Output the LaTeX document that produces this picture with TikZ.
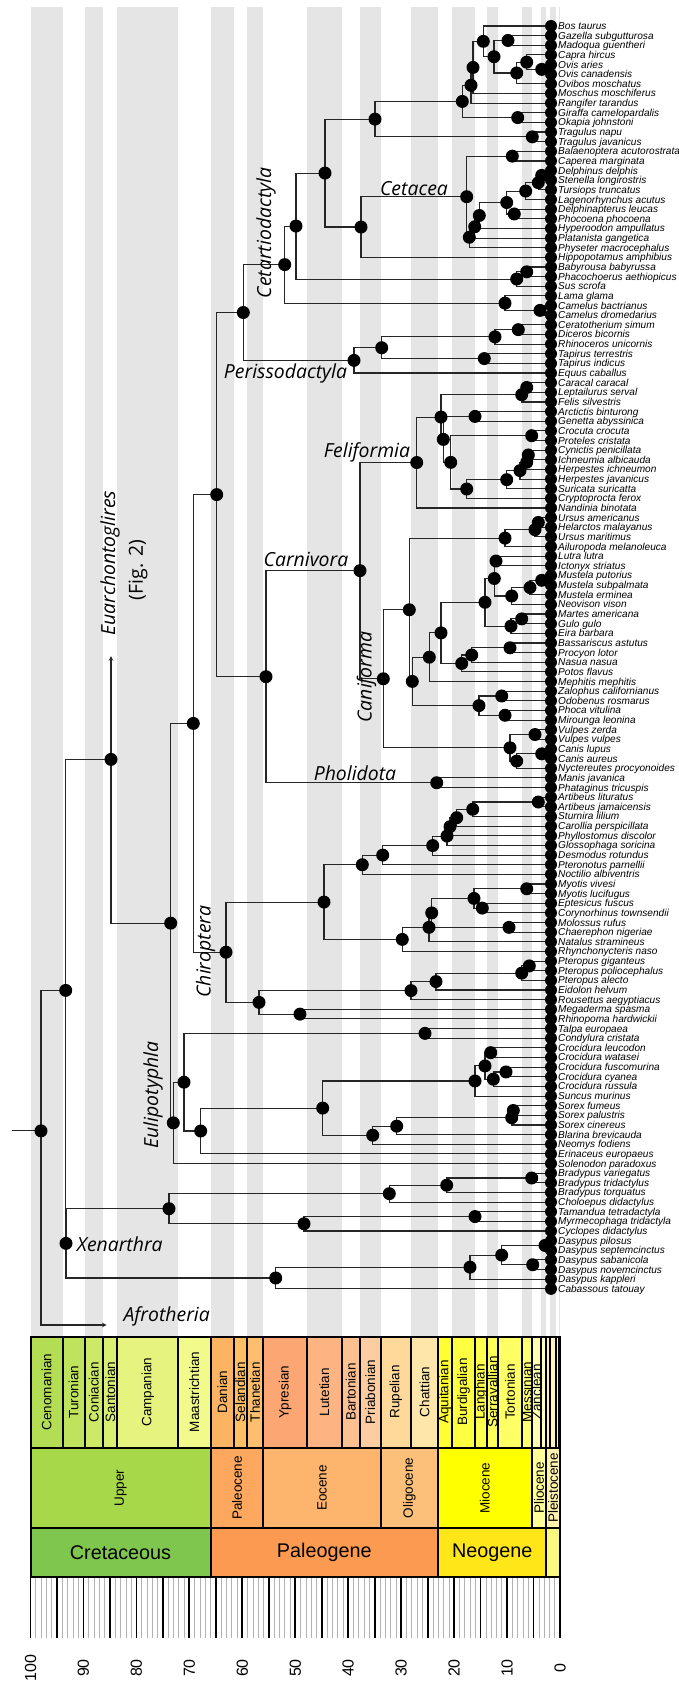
\documentclass[tikz,border=0pt]{standalone}
\usepackage{fontspec}
\setmainfont{Liberation Sans}
\newfontfamily\cladefont{Open Sans}
\usepackage{tikz}
\usetikzlibrary{calc}
\definecolor{stripe}{HTML}{E5E5E5}
% stages
\definecolor{cenom}{HTML}{B3DE53}
\definecolor{turon}{HTML}{BFE35D}
\definecolor{conia}{HTML}{CCE968}
\definecolor{santo}{HTML}{D9EF74}
\definecolor{campa}{HTML}{E6F47F}
\definecolor{maast}{HTML}{F2FA8C}
\definecolor{dania}{HTML}{FDB462}
\definecolor{selan}{HTML}{FEBF65}
\definecolor{thane}{HTML}{FDBF6F}
\definecolor{ypres}{HTML}{FCA773}
\definecolor{lutet}{HTML}{FCB482}
\definecolor{barto}{HTML}{FDC091}
\definecolor{priab}{HTML}{FDCDA1}
\definecolor{rupel}{HTML}{FED99A}
\definecolor{chatt}{HTML}{FEE6AA}
\definecolor{aquit}{HTML}{FFFF33}
\definecolor{burdi}{HTML}{FFFF41}
\definecolor{langh}{HTML}{FFFF4D}
\definecolor{serra}{HTML}{FFFF59}
\definecolor{torto}{HTML}{FFFF66}
\definecolor{messi}{HTML}{FFFF73}
\definecolor{zancl}{HTML}{FFFFB3}
\definecolor{piace}{HTML}{FFFFBF}
\definecolor{gelas}{HTML}{FFEDB3}
\definecolor{calab}{HTML}{FFF2BA}
\definecolor{midpl}{HTML}{FFF2C7}
\definecolor{upppl}{HTML}{FFF2D3}
% epochs
\definecolor{uppcr}{HTML}{A6D84A}
\definecolor{paleoc}{HTML}{FDA75F}
\definecolor{eocen}{HTML}{FDB46C}
\definecolor{oligo}{HTML}{FDC07A}
\definecolor{mioce}{HTML}{FFFF00}
\definecolor{plioc}{HTML}{FFFF99}
\definecolor{pleis}{HTML}{FFF2AE}
\definecolor{holoc}{HTML}{FEF2E0}
% periods
\definecolor{creta}{HTML}{7FC64E}
\definecolor{paleog}{HTML}{FD9A52}
\definecolor{neoge}{HTML}{FFE619}
\definecolor{quate}{HTML}{F9F97F}

\begin{document}
\begin{tikzpicture}[
   x=1pt, y=-1pt,
   branch/.style={draw=black!85, line width=1.1},
   nodedot/.style={circle, fill=black, inner sep=0, minimum size=13},
   tipdot/.style={circle, fill=black, inner sep=0, minimum size=12},
   tiplabel/.style={anchor=base west, inner sep=0, font=\fontsize{10.1}{10}\selectfont\itshape},
   cladelabel/.style={inner sep=0, font=\cladefont\fontsize{19.4}{20}\selectfont\itshape},
   unitbox/.style={draw=black, line width=2},
   stagelabel/.style={rotate=90, inner sep=0, font=\fontsize{13.5}{14}\selectfont},
   periodlabel/.style={inner sep=0, font=\fontsize{19.8}{20}\selectfont},
   tickminor/.style={draw=black!30, line width=0.6},
   tickmajor/.style={draw=black, line width=1.8},
   agelabel/.style={rotate=90, inner sep=0, font=\fontsize{16}{16}\selectfont}
  ]

  % time axis: x = xzero - kma * age
  \pgfmathsetmacro{\xzero}{560}
  \pgfmathsetmacro{\kma}{5.295}

  \useasboundingbox (0,0) rectangle (679,1691);

  % grey stage stripes
  \foreach \a/\b in {100/93.9, 89.8/86.3, 83.6/72.1, 66/61.6, 59.2/56, 47.8/41.2, 37.8/33.9,
                     28.1/23.03, 20.44/15.97, 13.82/11.63, 7.246/5.333, 3.6/2.58, 1.8/0.781, 0.126/0} {
    \fill[stripe] ({\xzero-\kma*\a},7) rectangle ({\xzero-\kma*\b},1336);
  }

  \def\specieslist{Bos taurus, Gazella subgutturosa, Madoqua guentheri, Capra hircus, Ovis aries,
    Ovis canadensis, Ovibos moschatus, Moschus moschiferus, Rangifer tarandus, Giraffa camelopardalis,
    Okapia johnstoni, Tragulus napu, Tragulus javanicus, Balaenoptera acutorostrata, Caperea marginata,
    Delphinus delphis, Stenella longirostris, Tursiops truncatus, Lagenorhynchus acutus,
    Delphinapterus leucas, Phocoena phocoena, Hyperoodon ampullatus, Platanista gangetica,
    Physeter macrocephalus, Hippopotamus amphibius, Babyrousa babyrussa, Phacochoerus aethiopicus,
    Sus scrofa, Lama glama, Camelus bactrianus, Camelus dromedarius, Ceratotherium simum,
    Diceros bicornis, Rhinoceros unicornis, Tapirus terrestris, Tapirus indicus, Equus caballus,
    Caracal caracal, Leptailurus serval, Felis silvestris, Arctictis binturong, Genetta abyssinica,
    Crocuta crocuta, Proteles cristata, Cynictis penicillata, Ichneumia albicauda, Herpestes ichneumon,
    Herpestes javanicus, Suricata suricatta, Cryptoprocta ferox, Nandinia binotata, Ursus americanus,
    Helarctos malayanus, Ursus maritimus, Ailuropoda melanoleuca, Lutra lutra, Ictonyx striatus,
    Mustela putorius, Mustela subpalmata, Mustela erminea, Neovison vison, Martes americana, Gulo gulo,
    Eira barbara, Bassariscus astutus, Procyon lotor, Nasua nasua, Potos flavus, Mephitis mephitis,
    Zalophus californianus, Odobenus rosmarus, Phoca vitulina, Mirounga leonina, Vulpes zerda,
    Vulpes vulpes, Canis lupus, Canis aureus, Nyctereutes procyonoides, Manis javanica,
    Phataginus tricuspis, Artibeus lituratus, Artibeus jamaicensis, Sturnira lilium,
    Carollia perspicillata, Phyllostomus discolor, Glossophaga soricina, Desmodus rotundus,
    Pteronotus parnellii, Noctilio albiventris, Myotis vivesi, Myotis lucifugus, Eptesicus fuscus,
    Corynorhinus townsendii, Molossus rufus, Chaerephon nigeriae, Natalus stramineus,
    Rhynchonycteris naso, Pteropus giganteus, Pteropus poliocephalus, Pteropus alecto, Eidolon helvum,
    Rousettus aegyptiacus, Megaderma spasma, Rhinopoma hardwickii, Talpa europaea, Condylura cristata,
    Crocidura leucodon, Crocidura watasei, Crocidura fuscomurina, Crocidura cyanea, Crocidura russula,
    Suncus murinus, Sorex fumeus, Sorex palustris, Sorex cinereus, Blarina brevicauda, Neomys fodiens,
    Erinaceus europaeus, Solenodon paradoxus, Bradypus variegatus, Bradypus tridactylus,
    Bradypus torquatus, Choloepus didactylus, Tamandua tetradactyla, Myrmecophaga tridactyla,
    Cyclopes didactylus, Dasypus pilosus, Dasypus septemcinctus, Dasypus sabanicola,
    Dasypus novemcinctus, Dasypus kappleri, Cabassous tatouay}

  % name/x/child/child, children first
  \def\cladelist{ovis/541.7/t5/t6, capov/526.7/t4/ovis, caprin/516.7/capov/t7, antil/508/t2/t3,
    bovA/494/antil/caprin, bovid/483.3/t1/bovA, bovmos/473/bovid/t8, cervo/471/bovmos/t9,
    giraf/517.7/t10/t11, pecora/462.3/cervo/giraf, tragul/532.3/t12/t13, rumin/375/pecora/tragul,
    mysti/512.3/t14/t15, delA/541.7/t16/t17, delB/538.3/delA/t18, delC/525.7/delB/t19,
    monph/514.3/t20/t21, delphoid/506.7/delC/monph, odA/479.3/delphoid/t22, odB/474.7/odA/t23,
    odonto/469.3/odB/t24, cetacea/466.7/mysti/odonto, whip/361/cetacea/t25, cetrum/325/rumin/whip,
    suinA/526.7/t26/t27, suina/516.7/suinA/t28, artioA/296/cetrum/suina, camA/540/t30/t31,
    camel/505/t29/camA, cetart/284.7/artioA/camel,
    rhinA/518.3/t32/t33, rhino/495/rhinA/t34, tapir/484.3/t35/t36, ceratom/381.7/rhino/tapir,
    periss/354/ceratom/t37, euung/243.3/cetart/periss,
    felA/526.7/t38/t39, felid/521.7/felA/t40, viver/475/t41/t42, hyaen/531.7/t43/t44,
    herA/528.3/t45/t46, herB/526.7/herA/t47, herC/520/herB/t48, herD/506.7/herC/t49,
    herpeup/466.7/herD/t50, felZ/450.7/hyaen/herpeup, felY/443.3/viver/felZ, felX/441/felid/felY,
    felif/416.7/felX/t51,
    ursA/538.3/t52/t53, ursB/535/ursA/t54, ursid/505/ursB/t55, lutict/496/t56/t57,
    musA/541.7/t58/t59, musB/530/musA/t60, musC/511.7/musB/t61, musD/494.3/lutict/musC,
    marA/521.7/t62/t63, marB/511/marA/t64, mustel/485/musD/marB, proA/510/t65/t66,
    proB/471.7/proA/t67, procy/461.7/proB/t68, muspro/441/mustel/procy, muste/429.3/muspro/t69,
    otar/501.7/t70/t71, phoc/505/t72/t73, pinni/479/otar/phoc, arcA/412.3/muste/pinni,
    arcto/409.3/ursid/arcA, vulp/535/t74/t75, canA/541.7/t76/t77, canB/516.7/canA/t78,
    canid/510/vulp/canB, canif/383.3/arcto/canid, carniv/360/felif/canif,
    pholid/436.7/t79/t80, ferae/266/carniv/pholid, fereu/216.7/euung/ferae,
    phyA/538.3/t81/t82, phyB/472.7/phyA/t83, phyC/456.7/phyB/t84, phyD/450/phyC/t85,
    phyE/447/phyD/t86, phyll/432.7/phyE/t87, noctA/382.7/phyll/t88, noct/362.3/noctA/t89,
    myot/526.7/t90/t91, vesA/482.3/t92/t93, vesp/474/myot/vesA, moloss/509/t94/t95,
    vesmol/431.7/vesp/moloss, vesnat/429/vesmol/t96, emball/402.3/vesnat/t97, yango/324/noct/emball,
    pteA/529.3/t98/t99, pteB/521.7/pteA/t100, pteC/436/pteB/t101, pterop/411/pteC/t102,
    rhinol/300/t103/t104, yinpt/259/pterop/rhinol, chiro/226/yango/yinpt, scrot/193.3/fereu/chiro,
    talp/425/t105/t106, croA/490.7/t107/t108, croB/506/t109/t110, croC/493.3/croB/t111,
    croD/485/croA/croC, crocid/475/croD/t112, sorA/513.3/t113/t114, sorB/511.7/sorA/t115,
    sorC/396.7/sorB/t116, sorD/372.7/sorC/t117, soric/322.7/crocid/sorD, erisor/200.7/soric/t118,
    eulA/184/talp/erisor, eulip/173.3/eulA/t119, laura/170.7/scrot/eulip,
    braA/531.7/t120/t121, braB/446.7/braA/t122, foliv/389.3/braB/t123, myrA/475/t124/t125,
    verm/304/myrA/t126, pilosa/169/foliv/verm, dasA/545/t127/t128, dasB/532.7/t129/t130,
    dasC/501.7/dasA/dasB, dasD/470/dasC/t131, cing/275.7/dasD/t132, xenar/66/pilosa/cing}

  % tips
  \foreach \sp [count=\i] in \specieslist {
    \coordinate (t\i) at (551, {26+(\i-1)*9.64});
  }

  % internal nodes, halfway between their children (canvas units)
  \foreach \cname/\hpos/\ca/\cb in \cladelist {
    \path let \p1=(\ca), \p2=(\cb) in coordinate (\cname) at ({\hpos pt}, {(\y1+\y2)/2});
  }

  % deep nodes
  \coordinate (boreo) at (111, 759.4);
  \coordinate (euarch) at (111, 656);
  \coordinate (exafro) at (65.7, 990.4);
  \coordinate (root) at (41, 1130.9);
  \coordinate (afro) at (106.7, 1325);
  \coordinate (stem) at (12, 1130.9);

  % branches
  \foreach \cname/\hpos/\ca/\cb in \cladelist {
    \draw[branch] (\ca) -| (\cname) |- (\cb);
  }
  \draw[branch] (boreo) |- (laura);
  \draw[branch, ->, >=stealth] (boreo) -- (euarch);
  \draw[branch] (boreo) -| (exafro) |- (xenar);
  \draw[branch] (stem) -- (root);
  \draw[branch] (exafro) -| (root);
  \draw[branch, ->, >=stealth] (root) |- (afro);

  % dots
  \foreach \cname/\hpos/\ca/\cb in \cladelist {
    \node[nodedot] (d\cname) at (\cname) {};
  }
  \foreach \cname in {boreo, exafro, root} {
    \node[nodedot] (d\cname) at (\cname) {};
  }
  \foreach \sp [count=\i] in \specieslist {
    \node[tipdot] (d\i) at (t\i) {};
    \node[tiplabel] (l\i) at (558, {29.5+(\i-1)*9.64}) {\sp};
  }

  % clade names
  \node[cladelabel, rotate=90] (lcetart) at (266, 233) {Cetartiodactyla};
  \node[cladelabel] (lcetac) at (414, 189) {Cetacea};
  \node[cladelabel] (lperis) at (285.5, 373) {Perissodactyla};
  \node[cladelabel] (lfelif) at (367, 452.5) {Feliformia};
  \node[cladelabel] (lcarni) at (306, 559) {Carnivora};
  \node[cladelabel, rotate=90] (lcanif) at (366.5, 677) {Caniforma};
  \node[cladelabel] (lpholi) at (355, 773) {Pholidota};
  \node[cladelabel, rotate=90] (lchiro) at (205.5, 951.5) {Chiroptera};
  \node[cladelabel, rotate=90] (leulip) at (153, 1095) {Eulipotyphla};
  \node[cladelabel, anchor=west] (lxenar) at (76.7, 1244) {Xenarthra};
  \node[cladelabel, anchor=west] (lafro) at (123.3, 1316) {Afrotheria};
  \node[cladelabel, rotate=90] (leuarc) at (110, 563) {Euarchontoglires};
  \node[cladelabel, rotate=90, font=\cladefont\fontsize{19.4}{20}\selectfont] (lfig) at (138, 570) {(Fig. 2)};

  % time scale: stages
  \foreach \a/\b/\c/\lab [count=\i] in {100/93.9/cenom/Cenomanian, 93.9/89.8/turon/Turonian,
      89.8/86.3/conia/Coniacian, 86.3/83.6/santo/Santonian, 83.6/72.1/campa/Campanian,
      72.1/66/maast/Maastrichtian, 66/61.6/dania/Danian, 61.6/59.2/selan/Selandian,
      59.2/56/thane/Thanetian, 56/47.8/ypres/Ypresian, 47.8/41.2/lutet/Lutetian,
      41.2/37.8/barto/Bartonian, 37.8/33.9/priab/Priabonian, 33.9/28.1/rupel/Rupelian,
      28.1/23.03/chatt/Chattian, 23.03/20.44/aquit/Aquitanian, 20.44/15.97/burdi/Burdigalian,
      15.97/13.82/langh/Langhian, 13.82/11.63/serra/Serravallian, 11.63/7.246/torto/Tortonian,
      7.246/5.333/messi/Messinian, 5.333/3.6/zancl/Zanclean, 3.6/2.58/piace/{}, 2.58/1.8/gelas/{},
      1.8/0.781/calab/{}, 0.781/0.126/midpl/{}, 0.126/0/upppl/{}} {
    \draw[unitbox, fill=\c] ({\xzero-\kma*\a},1336.5) rectangle ({\xzero-\kma*\b},1447.5);
    \node[stagelabel] (stage\i) at ({\xzero-\kma*(\a+\b)/2},1392) {\lab};
  }

  % epochs
  \foreach \a/\b/\c/\lab [count=\i] in {100/66/uppcr/Upper, 66/56/paleoc/Paleocene,
      56/33.9/eocen/Eocene, 33.9/23.03/oligo/Oligocene, 23.03/5.333/mioce/Miocene,
      5.333/2.58/plioc/Pliocene, 2.58/0.0117/pleis/Pleistocene, 0.0117/0/holoc/{}} {
    \draw[unitbox, fill=\c] ({\xzero-\kma*\a},1447.5) rectangle ({\xzero-\kma*\b},1528);
    \node[stagelabel] (epoch\i) at ({\xzero-\kma*(\a+\b)/2},1488) {\lab};
  }

  % periods
  \foreach \a/\b/\c/\lab [count=\i] in {100/66/creta/Cretaceous, 66/23.03/paleog/Paleogene,
      23.03/2.58/neoge/Neogene, 2.58/0/quate/{}} {
    \draw[unitbox, fill=\c] ({\xzero-\kma*\a},1528) rectangle ({\xzero-\kma*\b},1577);
    \node[periodlabel] (period\i) at ({\xzero-\kma*(\a+\b)/2},1552.5) {\lab};
  }

  % age ticks
  \foreach \t in {0,...,100} {
    \draw[tickminor] ({\xzero-\kma*\t},1578) -- ({\xzero-\kma*\t},1638);
  }
  \foreach \t in {0,5,...,100} {
    \draw[tickmajor] ({\xzero-\kma*\t},1578) -- ({\xzero-\kma*\t},1638);
  }
  \foreach \t in {0,10,...,100} {
    \node[agelabel] (age\t) at ({\xzero-\kma*\t},1668) {\t};
  }

\end{tikzpicture}
\end{document}
